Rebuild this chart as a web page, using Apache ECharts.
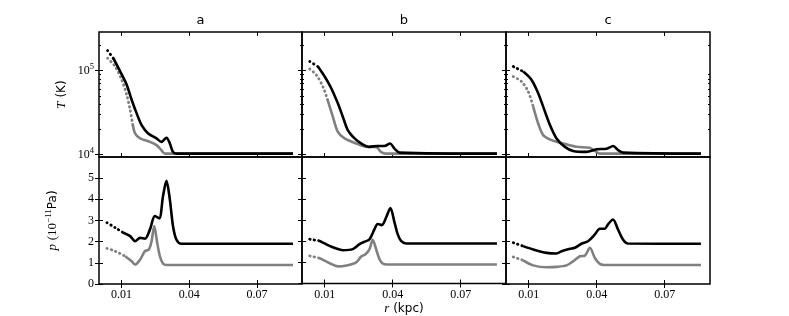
<!DOCTYPE html>
<html><head><meta charset="utf-8">
<script src="https://cdn.jsdelivr.net/npm/echarts@6/dist/echarts.min.js"></script>
<style>html,body{margin:0;padding:0;background:#fff}#c{width:789px;height:316px}</style>
</head><body><div id="c"></div>
<script>
// ---------- tick labels / categories ----------
const panelTitles = ['a', 'b', 'c'];
const xTicks = [0.01, 0.04, 0.07];
const tMajorTicks = [1e4, 1e5];
const tMinorTicks = [2e4, 3e4, 4e4, 5e4, 6e4, 7e4, 8e4, 9e4, 2e5];
const pTicks = [0, 1, 2, 3, 4, 5];

// ---------- temperature T (K), panels a, b, c ----------
const aTBlackX = [0.0038,0.0064,0.0094,0.0123,0.0145,0.0167,0.0189,0.0218,0.0255,0.0277,0.0299,0.0314,0.0328,0.0343,0.086];
const aTBlackY = [1.74e5,1.40e5,9.77e4,6.76e4,4.47e4,3.09e4,2.24e4,1.78e4,1.55e4,1.41e4,1.58e4,1.35e4,1.07e4,1.02e4,1.02e4];
const aTGrayX  = [0.0038,0.0072,0.0101,0.0123,0.0138,0.0150,0.0160,0.0182,0.0226,0.0255,0.0277,0.0292,0.086];
const aTGrayY  = [1.41e5,1.12e5,7.76e4,5.13e4,3.39e4,2.24e4,1.78e4,1.55e4,1.41e4,1.29e4,1.12e4,1.02e4,1.02e4];

const bTBlackX = [0.0034,0.0070,0.0100,0.0129,0.0158,0.0180,0.0202,0.0232,0.0261,0.0298,0.0334,0.0364,0.0389,0.0408,0.0430,0.086];
const bTBlackY = [1.29e5,1.12e5,8.51e4,6.17e4,4.07e4,2.82e4,1.95e4,1.55e4,1.35e4,1.23e4,1.26e4,1.26e4,1.35e4,1.17e4,1.05e4,1.02e4];
const bTGrayX  = [0.0034,0.0063,0.0092,0.0113,0.0136,0.0158,0.0188,0.0239,0.0289,0.0326,0.0348,0.0370,0.086];
const bTGrayY  = [1.05e5,8.91e4,6.46e4,4.47e4,2.82e4,1.86e4,1.55e4,1.35e4,1.23e4,1.23e4,1.07e4,1.02e4,1.02e4];

const cTBlackX = [0.0032,0.0076,0.0113,0.0142,0.0164,0.0194,0.0223,0.0260,0.0296,0.0355,0.0400,0.0444,0.0473,0.0495,0.0517,0.086];
const cTBlackY = [1.12e5,9.77e4,7.76e4,5.37e4,3.72e4,2.24e4,1.55e4,1.23e4,1.10e4,1.07e4,1.15e4,1.17e4,1.26e4,1.12e4,1.05e4,1.02e4];
const cTGrayX  = [0.0032,0.0069,0.0098,0.0120,0.0142,0.0164,0.0201,0.0252,0.0310,0.0369,0.0392,0.0414,0.086];
const cTGrayY  = [8.51e4,7.41e4,5.62e4,3.72e4,2.34e4,1.70e4,1.48e4,1.35e4,1.23e4,1.20e4,1.10e4,1.02e4,1.02e4];

// ---------- pressure p (1e-11 Pa), panels a, b, c ----------
const aPBlackX = [0.0035,0.0072,0.0108,0.0138,0.0160,0.0182,0.0204,0.0226,0.0248,0.0267,0.0284,0.0299,0.0314,0.0328,0.0343,0.0365,0.086];
const aPBlackY = [2.90,2.66,2.42,2.26,2.02,2.18,2.14,2.58,3.21,3.10,4.16,4.87,4.00,2.74,2.10,1.90,1.90];
const aPGrayX  = [0.0035,0.0072,0.0116,0.0145,0.0160,0.0182,0.0204,0.0221,0.0233,0.0245,0.0258,0.0270,0.0284,0.0300,0.086];
const aPGrayY  = [1.68,1.55,1.31,1.07,0.92,1.15,1.55,1.63,2.02,2.74,1.95,1.31,0.96,0.90,0.90];

const bPBlackX = [0.0034,0.0078,0.0114,0.0151,0.0180,0.0224,0.0254,0.0276,0.0298,0.0320,0.0334,0.0352,0.0371,0.0390,0.0408,0.0422,0.0437,0.0459,0.086];
const bPBlackY = [2.10,2.02,1.82,1.66,1.58,1.63,1.87,1.98,2.10,2.58,2.82,2.77,3.13,3.58,2.90,2.34,2.02,1.90,1.90];
const bPGrayX  = [0.0034,0.0078,0.0122,0.0158,0.0202,0.0239,0.0261,0.0280,0.0298,0.0312,0.0327,0.0342,0.0356,0.0375,0.086];
const bPGrayY  = [1.31,1.20,0.96,0.81,0.87,1.00,1.28,1.39,1.63,2.07,1.63,1.15,0.95,0.90,0.90];

const cPBlackX = [0.0032,0.0076,0.0120,0.0179,0.0223,0.0245,0.0282,0.0304,0.0333,0.0362,0.0392,0.0414,0.0436,0.0450,0.0472,0.0494,0.0516,0.0538,0.086];
const cPBlackY = [1.95,1.79,1.63,1.47,1.44,1.55,1.66,1.71,1.90,2.02,2.34,2.61,2.61,2.82,3.05,2.58,2.10,1.91,1.90];
const cPGrayX  = [0.0032,0.0076,0.0120,0.0179,0.0223,0.0267,0.0296,0.0326,0.0348,0.0370,0.0392,0.0414,0.0432,0.086];
const cPGrayY  = [1.28,1.12,0.88,0.79,0.81,0.88,1.07,1.31,1.34,1.71,1.23,0.95,0.90,0.90];

const tPanels = [
  [[aTBlackX, aTBlackY], [aTGrayX, aTGrayY]],
  [[bTBlackX, bTBlackY], [bTGrayX, bTGrayY]],
  [[cTBlackX, cTBlackY], [cTGrayX, cTGrayY]]
];
const pPanels = [
  [[aPBlackX, aPBlackY], [aPGrayX, aPGrayY]],
  [[bPBlackX, bPBlackY], [bPGrayX, bPGrayY]],
  [[cPBlackX, cPBlackY], [cPGrayX, cPGrayY]]
];

// ---------- layout / style ----------
// x up to which each curve is drawn as sparse dots (style only): [black, gray]
const tDotEnd = [[0.0064, 0.0150], [0.0070, 0.0113], [0.0076, 0.0120]];
const pDotEnd = [[0.0108, 0.0116], [0.0078, 0.0078], [0.0076, 0.0076]];
const SERIF = 'Liberation Serif, DejaVu Serif, serif';
const SANS = 'DejaVu Sans, sans-serif';
const lineColors = ['#000000', '#808080'];
const gridLeft = [99, 302, 506];
const gridWidth = [203, 204, 204];
const rowTop = [32, 157];
const rowHeight = [125, 127];
const tRange = [9300, 290000];
const pRange = [0, 6];

const L10 = Math.log10;
const grids = [], xAxes = [], yAxes = [], series = [];

const supRich = {
  b: {fontFamily: SERIF, fontSize: 12, lineHeight: 16, color: '#000'},
  s: {fontFamily: SERIF, fontSize: 8.5, verticalAlign: 'top', lineHeight: 10, color: '#000'}
};
const nameRich = {
  i: {fontFamily: SERIF, fontStyle: 'italic', fontSize: 13, lineHeight: 18, color: '#000'},
  n: {fontFamily: SANS, fontSize: 12, lineHeight: 18, color: '#000'},
  s: {fontFamily: SERIF, fontSize: 13, lineHeight: 18, color: '#000'},
  e: {fontFamily: SERIF, fontSize: 9, lineHeight: 11, verticalAlign: 'top', color: '#000'}
};

function tickStyle(len, vals) {
  return {show: true, inside: true, length: len, customValues: vals, lineStyle: {color: '#000', width: 1}};
}

for (let r = 0; r < 2; r++) {
  for (let k = 0; k < 3; k++) {
    const g = grids.length;
    grids.push({left: gridLeft[k], width: gridWidth[k], top: rowTop[r], height: rowHeight[r],
      show: true, borderColor: '#000', borderWidth: 1.5, backgroundColor: 'transparent'});

    const xb = xAxes.length;
    xAxes.push({type: 'value', gridIndex: g, position: 'bottom', min: 0, max: 0.09,
      axisLine: {show: false}, splitLine: {show: false}, axisTick: tickStyle(4, xTicks),
      axisLabel: {show: r === 1, customValues: xTicks, formatter: v => v.toFixed(2),
        fontFamily: SERIF, fontSize: 12, color: '#000', margin: 5},
      name: (r === 1 && k === 1) ? '{i|r} {n|(kpc)}' : '', nameLocation: 'middle', nameGap: 16,
      nameTextStyle: {fontFamily: SANS, fontSize: 12, color: '#000', rich: nameRich}
    });
    xAxes.push({type: 'value', gridIndex: g, position: 'top', min: 0, max: 0.09,
      axisLine: {show: false}, splitLine: {show: false}, axisTick: tickStyle(4, xTicks),
      axisLabel: {show: false},
      name: r === 0 ? panelTitles[k] : '', nameLocation: 'middle', nameGap: 5,
      nameTextStyle: {fontFamily: SANS, fontSize: 13, color: '#000'}
    });

    const yl = yAxes.length;
    if (r === 0) {
      const mn = L10(tRange[0]), mx = L10(tRange[1]);
      const major = tMajorTicks.map(L10), minor = tMinorTicks.map(L10);
      yAxes.push({type: 'value', gridIndex: g, position: 'left', min: mn, max: mx,
        axisLine: {show: false}, splitLine: {show: false}, axisTick: tickStyle(4, major),
        axisLabel: {show: k === 0, customValues: major,
          formatter: v => '{b|10}{s|' + Math.round(v) + '}',
          rich: supRich, color: '#000', margin: 5},
        name: k === 0 ? '{i|T} {n|(K)}' : '', nameLocation: 'middle', nameRotate: 90, nameGap: 28,
        nameTextStyle: {fontFamily: SANS, fontSize: 12, color: '#000', rich: nameRich}
      });
      yAxes.push({type: 'value', gridIndex: g, position: 'right', min: mn, max: mx,
        axisLine: {show: false}, splitLine: {show: false}, axisTick: tickStyle(4, major), axisLabel: {show: false}});
      yAxes.push({type: 'value', gridIndex: g, position: 'left', min: mn, max: mx,
        axisLine: {show: false}, splitLine: {show: false}, axisTick: tickStyle(2, minor), axisLabel: {show: false}});
      yAxes.push({type: 'value', gridIndex: g, position: 'right', min: mn, max: mx,
        axisLine: {show: false}, splitLine: {show: false}, axisTick: tickStyle(2, minor), axisLabel: {show: false}});
    } else {
      yAxes.push({type: 'value', gridIndex: g, position: 'left', min: pRange[0], max: pRange[1],
        axisLine: {show: false}, splitLine: {show: false}, axisTick: tickStyle(4, pTicks),
        axisLabel: {show: k === 0, customValues: pTicks, fontFamily: SERIF, fontSize: 12, color: '#000', margin: 5},
        name: k === 0 ? '{i|p} {s|(10}{e|\u221211}{n|Pa)}' : '', nameLocation: 'middle', nameRotate: 90, nameGap: 37,
        nameTextStyle: {fontFamily: SANS, fontSize: 12, color: '#000', rich: nameRich}
      });
      yAxes.push({type: 'value', gridIndex: g, position: 'right', min: pRange[0], max: pRange[1],
        axisLine: {show: false}, splitLine: {show: false}, axisTick: tickStyle(4, pTicks), axisLabel: {show: false}});
    }

    const panel = r === 0 ? tPanels[k] : pPanels[k];
    const dotEnd = r === 0 ? tDotEnd[k] : pDotEnd[k];
    // gray first, black on top
    [1, 0].forEach(s => {
      const xs = panel[s][0], ys = panel[s][1];
      const pts = xs.map((x, i) => [x, r === 0 ? L10(ys[i]) : ys[i]]);
      const cut = dotEnd[s];
      const dotted = pts.filter(p => p[0] <= cut);
      const solid = pts.filter(p => p[0] >= cut);
      series.push({type: 'line', xAxisIndex: xb, yAxisIndex: yl, data: dotted,
        showSymbol: false, smooth: 0.3, silent: true, animation: false,
        lineStyle: {color: lineColors[s], width: 2.8, type: [0.5, 4], cap: 'round'}, z: 3 - s});
      series.push({type: 'line', xAxisIndex: xb, yAxisIndex: yl, data: solid,
        showSymbol: false, smooth: 0.3, silent: true, animation: false,
        lineStyle: {color: lineColors[s], width: 2.6}, z: 3 - s});
    });
  }
}

const chart = echarts.init(document.getElementById('c'), null, {renderer: 'canvas'});
chart.setOption({backgroundColor: '#fff', animation: false, grid: grids, xAxis: xAxes, yAxis: yAxes, series: series});
</script>
</body></html>
